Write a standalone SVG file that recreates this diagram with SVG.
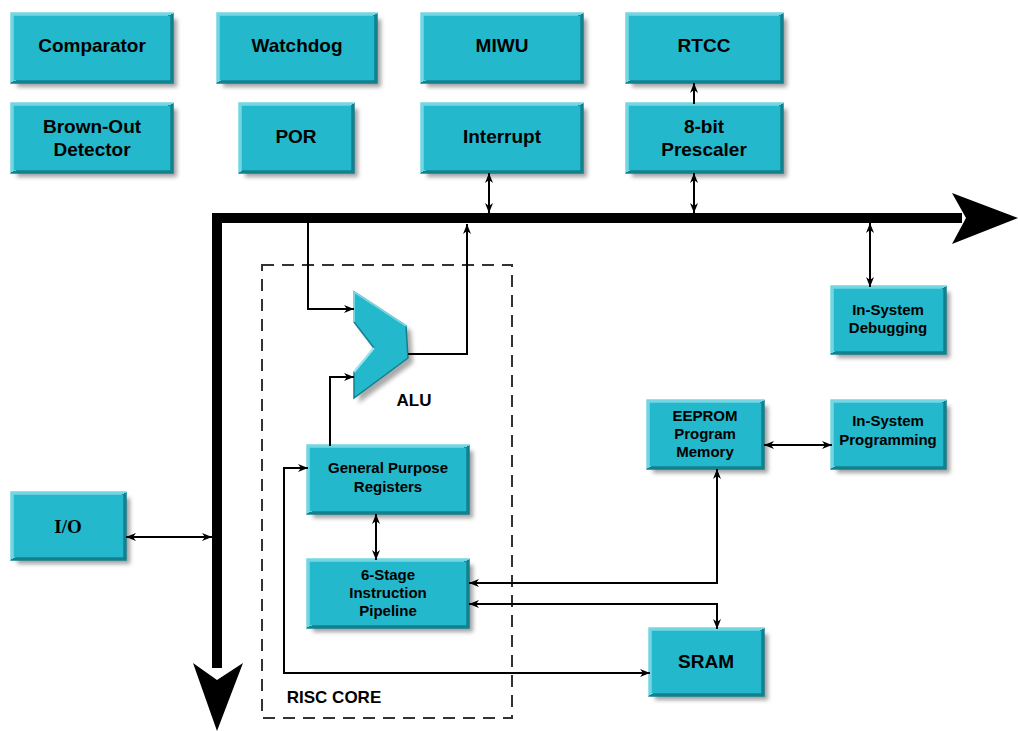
<svg xmlns="http://www.w3.org/2000/svg" width="1018" height="731" viewBox="0 0 1018 731">
<defs>
<linearGradient id="bev" x1="0" y1="0" x2="1" y2="1">
<stop offset="0" stop-color="#74d6e2"/><stop offset="0.5" stop-color="#74d6e2"/>
<stop offset="0.5" stop-color="#11808f"/><stop offset="1" stop-color="#11808f"/>
</linearGradient>
<filter id="blur" x="-20%" y="-20%" width="140%" height="140%"><feGaussianBlur stdDeviation="2.2"/></filter>
<marker id="ah" viewBox="0 0 10 8" refX="10" refY="4" markerWidth="10" markerHeight="8" markerUnits="userSpaceOnUse" orient="auto-start-reverse">
<path d="M0,0 L10,4 L0,8 L3,4 z" fill="#000"/>
</marker>
<style>
.sh{fill:#555;opacity:0.55;filter:url(#blur)}
.b{fill:#23b8cb;stroke:url(#bev);stroke-width:3.5}
.t{font-family:"Liberation Sans",Arial,sans-serif;font-weight:bold;fill:#000;text-anchor:middle;dominant-baseline:central}
.L{font-size:19px}
.S{font-size:15px}
.c{fill:none;stroke:#000;stroke-width:2}
.d{marker-start:url(#ah);marker-end:url(#ah)}
.e{marker-end:url(#ah)}
</style>
</defs>

<g id="bus">
<path d="M217,668 V218 H962" fill="none" stroke="#000" stroke-width="10" stroke-linejoin="miter"/>
<polygon points="952,193 1018,218 952,244 966,218" fill="#000"/>
<polygon points="193,663 217,731 243,663 217,680" fill="#000"/>
</g>

<g id="risc-core">
<rect x="262" y="265" width="250" height="453" fill="none" stroke="#333" stroke-width="2" stroke-dasharray="12,8"/>
<text class="t" x="334" y="697" style="font-size:17px">RISC CORE</text>
</g>

<g id="comparator"><rect class="sh" x="17" y="19" width="160" height="68"/><rect class="b" x="12" y="14" width="160" height="68"/><text class="t L" x="92" y="45">Comparator</text></g>
<g id="watchdog"><rect class="sh" x="223" y="19" width="158" height="68"/><rect class="b" x="218" y="14" width="158" height="68"/><text class="t L" x="297" y="45">Watchdog</text></g>
<g id="miwu"><rect class="sh" x="427" y="19" width="160" height="68"/><rect class="b" x="422" y="14" width="160" height="68"/><text class="t L" x="502" y="45">MIWU</text></g>
<g id="rtcc"><rect class="sh" x="632" y="19" width="155" height="68"/><rect class="b" x="627" y="14" width="155" height="68"/><text class="t L" x="704" y="45">RTCC</text></g>
<g id="brown-out"><rect class="sh" x="17" y="109" width="160" height="68"/><rect class="b" x="12" y="104" width="160" height="68"/><text class="t L" x="92" y="126">Brown-Out</text><text class="t L" x="92" y="149">Detector</text></g>
<g id="por"><rect class="sh" x="245" y="109" width="113" height="68"/><rect class="b" x="240" y="104" width="113" height="68"/><text class="t L" x="296" y="136">POR</text></g>
<g id="interrupt"><rect class="sh" x="427" y="109" width="160" height="68"/><rect class="b" x="422" y="104" width="160" height="68"/><text class="t L" x="502" y="136">Interrupt</text></g>
<g id="prescaler"><rect class="sh" x="632" y="109" width="155" height="68"/><rect class="b" x="627" y="104" width="155" height="68"/><text class="t L" x="704" y="126">8-bit</text><text class="t L" x="704" y="149">Prescaler</text></g>
<g id="isd"><rect class="sh" x="837" y="292" width="113" height="66"/><rect class="b" x="832" y="287" width="113" height="66"/><text class="t S" x="888" y="309">In-System</text><text class="t S" x="888" y="327">Debugging</text></g>
<g id="eeprom"><rect class="sh" x="653" y="406" width="115" height="67"/><rect class="b" x="648" y="401" width="115" height="67"/><text class="t S" x="705" y="415">EEPROM</text><text class="t S" x="705" y="433">Program</text><text class="t S" x="705" y="451">Memory</text></g>
<g id="isp"><rect class="sh" x="837" y="406" width="113" height="67"/><rect class="b" x="832" y="401" width="113" height="67"/><text class="t S" x="888" y="420">In-System</text><text class="t S" x="888" y="439">Programming</text></g>
<g id="gpr"><rect class="sh" x="313" y="451" width="160" height="67"/><rect class="b" x="308" y="446" width="160" height="67"/><text class="t S" x="388" y="467">General Purpose</text><text class="t S" x="388" y="486">Registers</text></g>
<g id="pipeline"><rect class="sh" x="313" y="565" width="160" height="67"/><rect class="b" x="308" y="560" width="160" height="67"/><text class="t S" x="388" y="574">6-Stage</text><text class="t S" x="388" y="592">Instruction</text><text class="t S" x="388" y="610">Pipeline</text></g>
<g id="sram"><rect class="sh" x="655" y="634" width="113" height="66"/><rect class="b" x="650" y="629" width="113" height="66"/><text class="t L" x="706" y="661">SRAM</text></g>
<g id="io"><rect class="sh" x="17" y="498" width="113" height="66"/><rect class="b" x="12" y="493" width="113" height="66"/><text class="t" x="68" y="526" style="font-family:'Liberation Serif',serif;font-size:19px">I/O</text></g>

<g id="alu">
<polygon points="359,297 411,331 413,363 359,403 359,377 379,353 359,327" fill="#555" opacity="0.5" filter="url(#blur)"/>
<polygon points="354,292 406,326 408,358 354,398 354,372 374,348 354,322" fill="#23b8cb" stroke="#11808f" stroke-width="1.5"/>
<polyline points="354,322 354,292 406,326" fill="none" stroke="#74d6e2" stroke-width="2"/>
<polyline points="374,348 354,372" fill="none" stroke="#9be6ef" stroke-width="2"/>
<text class="t" x="414" y="400" style="font-size:17px">ALU</text>
</g>

<g id="connectors">
<line class="c d" x1="489" y1="173" x2="489" y2="213"/>
<line class="c d" x1="694" y1="173" x2="694" y2="213"/>
<line class="c e" x1="694" y1="104" x2="694" y2="83"/>
<line class="c d" x1="870" y1="223" x2="870" y2="287"/>
<path class="c e" d="M308,223 V309 H354"/>
<path class="c e" d="M408,354 H467 V224"/>
<path class="c e" d="M330,446 V377 H354"/>
<line class="c d" x1="376" y1="514" x2="376" y2="560"/>
<path class="c d" d="M469,583 H717 V469"/>
<path class="c d" d="M469,604 H717 V629"/>
<path class="c d" d="M308,468 H284 V673 H650"/>
<line class="c d" x1="764" y1="445" x2="832" y2="445"/>
<line class="c d" x1="126" y1="537" x2="212" y2="537"/>
</g>
</svg>
